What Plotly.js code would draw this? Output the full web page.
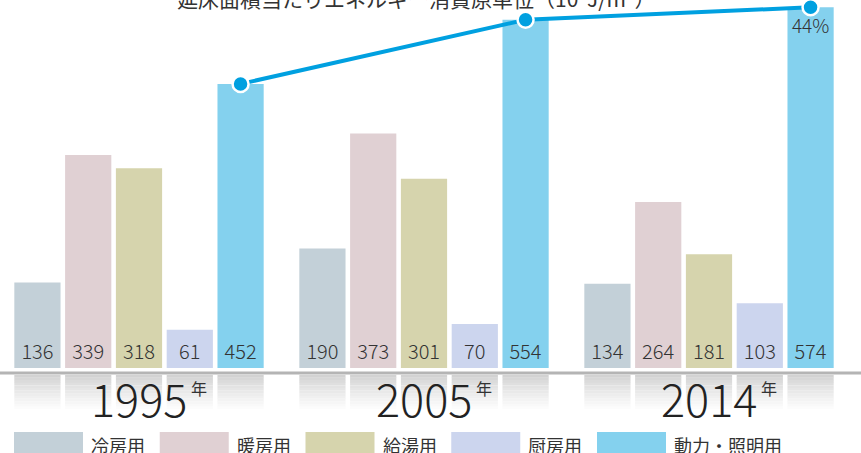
<!DOCTYPE html>
<html>
<head>
<meta charset="utf-8">
<script src="https://cdn.plot.ly/plotly-3.0.1.min.js"></script>
<style>html,body{margin:0;padding:0;background:#fff;}#chart{width:861px;height:453px;}</style>
</head>
<body>
<div id="chart"></div>
<script>
// ---- data ----
const years = ['1995', '2005', '2014'];
const categories = ['冷房用', '暖房用', '給湯用', '厨房用', '動力・照明用'];
const cooling = [136, 190, 134];
const heating = [339, 373, 264];
const hotWater = [318, 301, 181];
const kitchen = [61, 70, 103];
const powerLighting = [452, 554, 574];
const shareLabels = ['', '', '44%'];
const titleText = '延床面積当たりエネルギー消費原単位（10³J/m²）';
const yearSuffix = '年';

// ---- style ----
const colors = ['#c3d0d8', '#e0d0d3', '#d6d4ad', '#ccd5ee', '#84d1ee'];
const lineColor = '#00a0e0';
const textColor = '#333333';
const FONT = '"Noto Sans CJK JP", "Noto Sans", sans-serif';
const W = 861, H = 453;
const bargap = 0.109, bargroupgap = 0.09;
const series = [cooling, heating, hotWater, kitchen, powerLighting];
const nS = series.length;
const slot = (1 - bargap) / nS;
const barW = slot * (1 - bargroupgap);
const xIdx = years.map((_, i) => i);

const traces = [];
series.forEach((vals, s) => {
  traces.push({
    type: 'bar', name: categories[s], x: xIdx, y: vals,
    marker: {color: colors[s], line: {width: 0}},
    texttemplate: '%{y}', textposition: 'inside', insidetextanchor: 'start',
    textangle: 0, constraintext: 'none',
    insidetextfont: {size: 20, color: textColor, family: FONT, weight: 300},
    hoverinfo: 'skip', showlegend: false
  });
});

// reflection gradient below bars
const N = 14;
for (let k = 0; k < N; k++) {
  const t = k / (N - 1);
  const c0 = 210, c1 = 255;
  const v = Math.round(c0 + (c1 - c0) * Math.pow(t, 0.85));
  const col = `rgb(${v},${v},${v})`;
  const xs = [], offs = [], ys = [], bases = [];
  xIdx.forEach(g => {
    for (let s = 0; s < nS; s++) {
      xs.push(g);
      offs.push((s - (nS - 1) / 2) * slot - barW / 2);
      ys.push(1 / N + 0.005);
      bases.push(1 - (k + 1) / N);
    }
  });
  traces.push({
    type: 'bar', x: xs, y: ys, base: bases, offset: offs, width: barW,
    xaxis: 'x', yaxis: 'y2', marker: {color: col, line: {width: 0}},
    hoverinfo: 'skip', showlegend: false
  });
}

// line across the 動力・照明用 bars
traces.push({
  type: 'scatter', mode: 'lines+markers+text',
  x: xIdx.map(i => i + (nS - 1 - (nS - 1) / 2) * slot), y: powerLighting,
  text: shareLabels, textposition: 'bottom center',
  textfont: {size: 19, color: textColor, family: FONT, weight: 300},
  line: {color: lineColor, width: 4},
  marker: {size: 16, color: lineColor, line: {color: '#ffffff', width: 2.5}},
  cliponaxis: false, hoverinfo: 'skip', showlegend: false
});

const pxPerUnit = 285;
const groupCenterPx = 139;
const baseLinePx = 368;
const yTopVal = baseLinePx / 0.6285;

const annotations = [];
const shapes = [];
// title (cut at top)
annotations.push({
  text: titleText, xref: 'paper', yref: 'paper', x: 416 / W, y: 1,
  xanchor: 'center', yanchor: 'middle', yshift: 2, showarrow: false,
  font: {size: 21, color: textColor, family: FONT}
});
// years
xIdx.forEach(i => {
  annotations.push({
    text: years[i], xref: 'x', yref: 'paper', x: i, y: (H - 397) / H,
    xanchor: 'center', yanchor: 'middle', showarrow: false,
    font: {size: 45, color: '#222222', family: FONT, weight: 300}
  });
  annotations.push({
    text: yearSuffix, xref: 'x', yref: 'paper', x: i, xshift: 60, y: (H - 388) / H,
    xanchor: 'center', yanchor: 'middle', showarrow: false,
    font: {size: 16, color: '#333333', family: FONT}
  });
});
// baseline gray rule
shapes.push({type: 'line', xref: 'paper', yref: 'paper', x0: 0, x1: 1,
  y0: (H - 373) / H, y1: (H - 373) / H, line: {color: '#b4b4b4', width: 3}, layer: 'above'});
// legend
categories.forEach((c, i) => {
  const x0 = 14 + i * 145.75;
  shapes.push({type: 'rect', xref: 'paper', yref: 'paper',
    x0: x0 / W, x1: (x0 + 69) / W, y0: -0.02, y1: (H - 432) / H,
    fillcolor: colors[i], line: {width: 0}});
  annotations.push({text: c, xref: 'paper', yref: 'paper', x: (x0 + 75) / W, y: (H - 445) / H,
    xanchor: 'left', yanchor: 'middle', showarrow: false,
    font: {size: 18, color: textColor, family: FONT}});
});

const layout = {
  width: W, height: H, margin: {l: 0, r: 0, t: 0, b: 0},
  paper_bgcolor: '#ffffff', plot_bgcolor: 'rgba(0,0,0,0)',
  barmode: 'group', bargap: bargap, bargroupgap: bargroupgap,
  showlegend: false, font: {family: FONT, color: textColor},
  xaxis: {type: 'linear', range: [-groupCenterPx / pxPerUnit, (W - groupCenterPx) / pxPerUnit],
    visible: false, fixedrange: true},
  yaxis: {domain: [(H - baseLinePx) / H, 1], range: [0, yTopVal], visible: false, fixedrange: true},
  yaxis2: {domain: [(H - 412) / H, (H - 375) / H], range: [0, 1], visible: false, anchor: 'x', fixedrange: true},
  annotations: annotations, shapes: shapes
};

Plotly.newPlot('chart', traces, layout, {displayModeBar: false, staticPlot: true});
</script>
</body>
</html>
